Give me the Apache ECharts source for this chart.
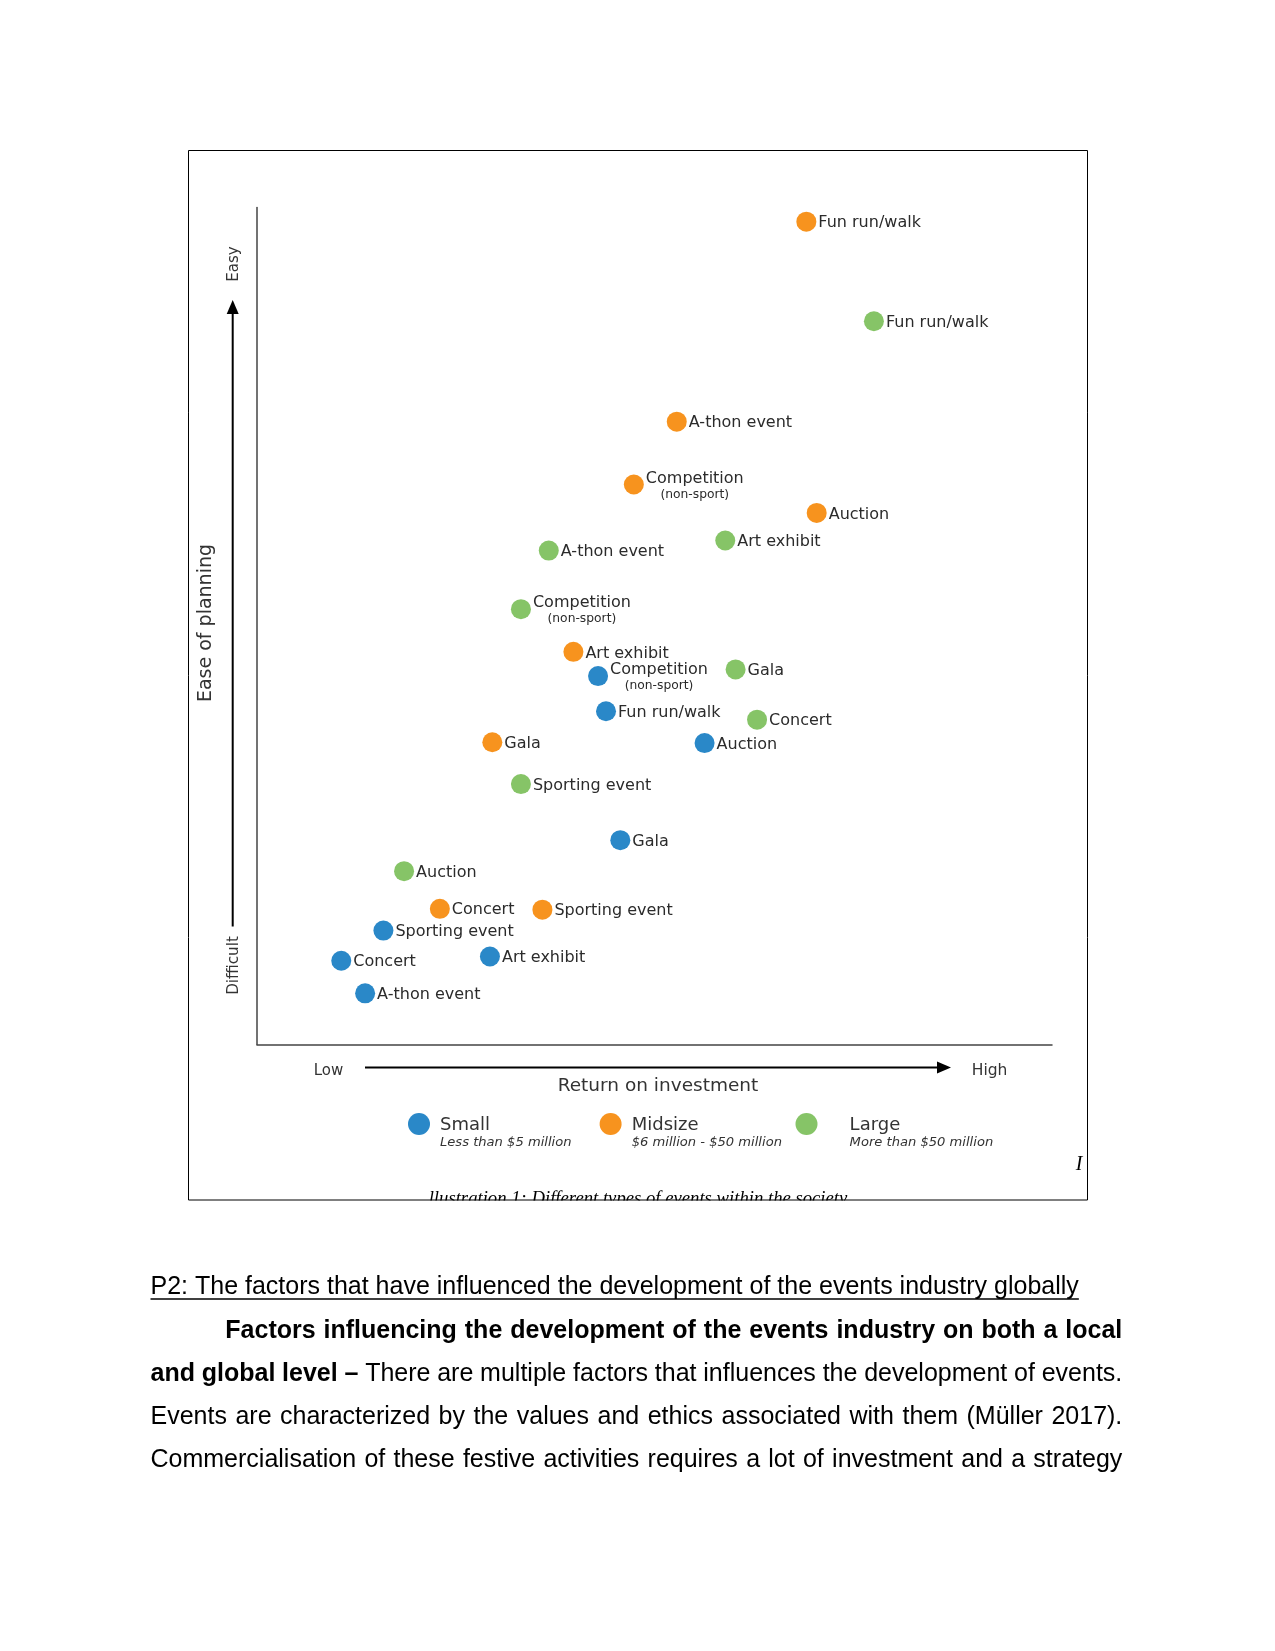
<!DOCTYPE html>
<html>
<head>
<meta charset="utf-8">
<script src="https://cdn.jsdelivr.net/npm/echarts@6/dist/echarts.min.js"></script>
<style>
html,body{margin:0;padding:0;background:#fff;}
#c{width:1275px;height:1651px;}
</style>
</head>
<body>
<div id="c"></div>
<script>
// ---- Data (x = return on investment, y = ease of planning, 0-100) ----
const smallEvents = ['Competition (non-sport)', 'Fun run/walk', 'Auction', 'Gala', 'Sporting event', 'Concert', 'Art exhibit', 'A-thon event'];
const smallROI    = [42.9, 43.9, 56.3, 45.7, 15.9, 10.6, 29.3, 13.6];
const smallEase   = [44.0, 39.8, 36.0, 24.4, 13.6, 10.0, 10.5, 6.1];

const midEvents = ['Fun run/walk', 'A-thon event', 'Competition (non-sport)', 'Auction', 'Art exhibit', 'Gala', 'Concert', 'Sporting event'];
const midROI    = [69.1, 52.8, 47.4, 70.4, 39.8, 29.6, 23.0, 35.9];
const midEase   = [98.3, 74.4, 66.9, 63.5, 46.9, 36.1, 16.2, 16.1];

const largeEvents = ['Fun run/walk', 'A-thon event', 'Art exhibit', 'Competition (non-sport)', 'Gala', 'Concert', 'Sporting event', 'Auction'];
const largeROI    = [77.6, 36.7, 58.9, 33.2, 60.2, 62.9, 33.2, 18.5];
const largeEase   = [86.4, 59.0, 60.2, 52.0, 44.8, 38.8, 31.1, 20.7];

const sizeNames = ['Small', 'Midsize', 'Large'];
const sizeNotes = ['Less than $5 million', '$6 million - $50 million', 'More than $50 million'];
const sizeColors = ['#2a88c8', '#f7931e', '#86c467'];

const bodyLines = [
  'P2: The factors that have influenced the development of the events industry globally',
  'Factors influencing the development of the events industry on both a local',
  'and global level \u2013 There are multiple factors that influences the development of events.',
  'Events are characterized by the values and ethics associated with them (M\u00fcller 2017).',
  'Commercialisation of these festive activities requires a lot of investment and a strategy'
];

// ---- Build ----
const LBL = '"DejaVu Sans", Verdana, sans-serif';
function toData(names, xs, ys) {
  return names.map((n, i) => ({ name: n, value: [xs[i], ys[i]] }));
}
function labelFmt(p) {
  if (p.name.indexOf('(') > 0) {
    const i = p.name.indexOf(' (');
    return '{a|' + p.name.slice(0, i) + '}\n{b|' + p.name.slice(i + 1) + '}';
  }
  return '{a|' + p.name + '}';
}
const labelOpt = {
  show: true, position: 'right', distance: 2, offset: [0, 1.5], formatter: labelFmt,
  rich: {
    a: { fontFamily: LBL, fontSize: 16, color: '#2b2b2b', align: 'center', lineHeight: 17 },
    b: { fontFamily: LBL, fontSize: 12.3, color: '#2b2b2b', align: 'center', lineHeight: 15 }
  }
};
function mkSeries(name, color, data) {
  return { type: 'scatter', name: name, symbol: 'circle', symbolSize: 20,
    itemStyle: { color: color, opacity: 1 }, label: labelOpt, data: data, z: 5,
    emphasis: { disabled: true } };
}

const graphics = [];
// caption (clipped by frame bottom)
graphics.push({ type: 'text', x: 638, y: 1199, z: 1,
  style: { text: 'llustration 1: Different types of events within the society', font: 'italic 18.7px "Liberation Serif", serif', fill: '#000', textAlign: 'center', textVerticalAlign: 'middle' } });
graphics.push({ type: 'rect', z: 2, shape: { x: 150, y: 1200.5, width: 1000, height: 30 }, style: { fill: '#fff' } });
graphics.push({ type: 'rect', z: 3, shape: { x: 188.5, y: 150.5, width: 899, height: 1049.5 }, style: { fill: null, stroke: '#000', lineWidth: 1 } });
graphics.push({ type: 'text', x: 1079, y: 1165, z: 3,
  style: { text: 'I', font: 'italic 20px "Liberation Serif", serif', fill: '#000', textAlign: 'center', textVerticalAlign: 'middle' } });

// Y direction arrow
graphics.push({ type: 'line', shape: { x1: 232.7, y1: 926.5, x2: 232.7, y2: 310 }, style: { stroke: '#000', lineWidth: 2 } });
graphics.push({ type: 'polygon', shape: { points: [[232.7, 300], [226.7, 314], [238.7, 314]] }, style: { fill: '#000' } });
graphics.push({ type: 'text', x: 234.5, y: 264, rotation: Math.PI / 2,
  style: { text: 'Easy', font: '15px ' + LBL, fill: '#333', textAlign: 'center', textVerticalAlign: 'middle' } });
graphics.push({ type: 'text', x: 234.5, y: 965.5, rotation: Math.PI / 2,
  style: { text: 'Difficult', font: '15.2px ' + LBL, fill: '#333', textAlign: 'center', textVerticalAlign: 'middle' } });
graphics.push({ type: 'text', x: 206, y: 623, rotation: Math.PI / 2,
  style: { text: 'Ease of planning', font: '19px ' + LBL, fill: '#333', textAlign: 'center', textVerticalAlign: 'middle' } });

// X direction arrow
graphics.push({ type: 'line', shape: { x1: 365, y1: 1067.6, x2: 940, y2: 1067.6 }, style: { stroke: '#000', lineWidth: 2 } });
graphics.push({ type: 'polygon', shape: { points: [[951, 1067.6], [937, 1061.6], [937, 1073.6]] }, style: { fill: '#000' } });
graphics.push({ type: 'text', x: 328.5, y: 1071,
  style: { text: 'Low', font: '15px ' + LBL, fill: '#333', textAlign: 'center', textVerticalAlign: 'middle' } });
graphics.push({ type: 'text', x: 989.6, y: 1071,
  style: { text: 'High', font: '15.5px ' + LBL, fill: '#333', textAlign: 'center', textVerticalAlign: 'middle' } });
graphics.push({ type: 'text', x: 658, y: 1086.5,
  style: { text: 'Return on investment', font: '18.5px ' + LBL, fill: '#333', textAlign: 'center', textVerticalAlign: 'middle' } });

// legend
const legDotX = [419, 610.6, 806.5];
const legTextX = [440, 631.7, 849.6];
sizeNames.forEach((n, i) => {
  graphics.push({ type: 'circle', shape: { cx: legDotX[i], cy: 1124, r: 11 }, style: { fill: sizeColors[i] } });
  graphics.push({ type: 'text', x: legTextX[i], y: 1125.5,
    style: { text: n, font: '18px ' + LBL, fill: '#333', textAlign: 'left', textVerticalAlign: 'middle' } });
  graphics.push({ type: 'text', x: legTextX[i], y: 1142.8,
    style: { text: sizeNotes[i], font: 'italic 13.1px ' + LBL, fill: '#333', textAlign: 'left', textVerticalAlign: 'middle' } });
});

// body text (justified)
const ctx = document.createElement('canvas').getContext('2d');
const REG = '25px "Liberation Sans", Arial, sans-serif';
const BOLD = 'bold 25px "Liberation Sans", Arial, sans-serif';
function wordsOf(str, font) { return str.split(' ').map(w => ({ w: w, font: font })); }
function placeLine(words, x0, x1, y, justify) {
  let tot = 0;
  words.forEach(t => { ctx.font = t.font; t.width = ctx.measureText(t.w).width; tot += t.width; });
  ctx.font = REG;
  const sp = ctx.measureText(' ').width;
  const gap = justify ? (x1 - x0 - tot) / (words.length - 1) : sp;
  let x = x0;
  words.forEach(t => {
    graphics.push({ type: 'text', x: x, y: y, style: { text: t.w, font: t.font, fill: '#000', textAlign: 'left', textVerticalAlign: 'middle' } });
    x += t.width + gap;
  });
  return x - gap;
}
const lineY = [1287.5, 1331.6, 1374.3, 1416.8, 1459.8];
const L = 150.5, R = 1122.3;
const endX = placeLine(wordsOf(bodyLines[0], REG), L, R, lineY[0], false);
graphics.push({ type: 'line', shape: { x1: L, y1: lineY[0] + 11.5, x2: endX, y2: lineY[0] + 11.5 }, style: { stroke: '#000', lineWidth: 1.6 } });
placeLine(wordsOf(bodyLines[1], BOLD), 225.3, R, lineY[1], true);
const l3 = bodyLines[2];
const cut = l3.indexOf('\u2013') + 1;
placeLine(wordsOf(l3.slice(0, cut), BOLD).concat(wordsOf(l3.slice(cut + 1), REG)), L, R, lineY[2], true);
placeLine(wordsOf(bodyLines[3], REG), L, R, lineY[3], true);
placeLine(wordsOf(bodyLines[4], REG), L, R, lineY[4], true);

const chart = echarts.init(document.getElementById('c'), null, { renderer: 'canvas' });
chart.setOption({
  backgroundColor: '#fff',
  animation: false,
  grid: { left: 257, top: 207.4, width: 795, height: 837, containLabel: false },
  xAxis: { type: 'value', min: 0, max: 100, axisLine: { show: true, onZero: false, lineStyle: { color: '#444', width: 1.5 } },
    axisTick: { show: false }, axisLabel: { show: false }, splitLine: { show: false } },
  yAxis: { type: 'value', min: 0, max: 100, axisLine: { show: true, onZero: false, lineStyle: { color: '#444', width: 1.5 } },
    axisTick: { show: false }, axisLabel: { show: false }, splitLine: { show: false } },
  series: [
    mkSeries(sizeNames[0], sizeColors[0], toData(smallEvents, smallROI, smallEase)),
    mkSeries(sizeNames[1], sizeColors[1], toData(midEvents, midROI, midEase)),
    mkSeries(sizeNames[2], sizeColors[2], toData(largeEvents, largeROI, largeEase))
  ],
  graphic: { elements: graphics }
});
</script>
</body>
</html>
